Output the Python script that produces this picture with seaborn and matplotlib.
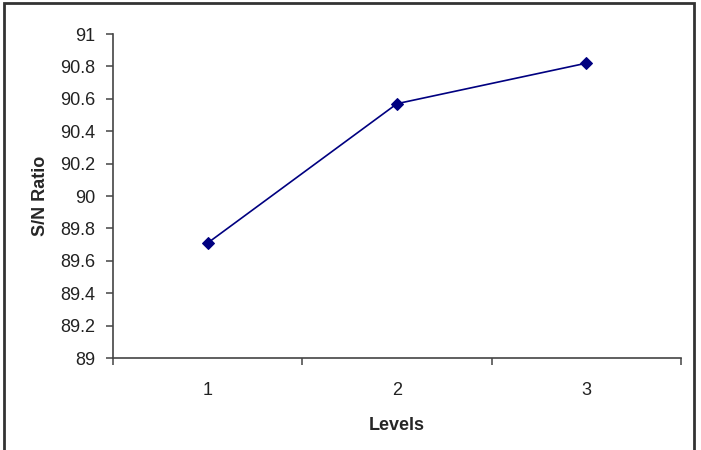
import pandas as pd
import matplotlib
matplotlib.use("Agg")
import matplotlib.pyplot as plt
import matplotlib.patches as patches
from matplotlib.ticker import FixedLocator
import seaborn as sns

levels = [1, 2, 3]
sn_ratio = [89.71, 90.57, 90.82]
y_ticks = [89, 89.2, 89.4, 89.6, 89.8, 90, 90.2, 90.4, 90.6, 90.8, 91]
y_tick_labels = ["89", "89.2", "89.4", "89.6", "89.8", "90", "90.2", "90.4", "90.6", "90.8", "91"]

df = pd.DataFrame({"Levels": levels, "S/N Ratio": sn_ratio})

sns.set_style("white")
plt.rcParams['font.family'] = ['Liberation Sans', 'DejaVu Sans']

fig = plt.figure(figsize=(7.01, 4.5), dpi=100)
ax = fig.add_axes([0.1612, 0.2044, 0.8103, 0.72])

sns.lineplot(data=df, x="Levels", y="S/N Ratio", ax=ax, color="#000080",
             marker="D", markersize=6, markeredgecolor="#000080", linewidth=1.2)

ax.set_xlim(0.5, 3.5)
ax.set_ylim(89, 91)
ax.set_yticks(y_ticks)
ax.set_yticklabels(y_tick_labels)
ax.set_xticks(levels)
ax.set_xticklabels([str(v) for v in levels])
ax.xaxis.set_minor_locator(FixedLocator([0.5, 1.5, 2.5, 3.5]))

for s in ["top", "right"]:
    ax.spines[s].set_visible(False)
for s in ["left", "bottom"]:
    ax.spines[s].set_color("#444444")
    ax.spines[s].set_linewidth(1.2)

ax.tick_params(axis="y", which="major", direction="out", length=5, width=1.1,
               color="#444444", labelsize=13, labelcolor="#222222", pad=8, left=True)
ax.tick_params(axis="x", which="major", length=0, labelsize=13,
               labelcolor="#222222", pad=17)
ax.tick_params(axis="x", which="minor", direction="out", length=5, width=1.1,
               color="#444444", bottom=True)

ax.set_xlabel("Levels", fontsize=13, fontweight="bold", labelpad=13)
ax.set_ylabel("S/N Ratio", fontsize=13, fontweight="bold", labelpad=8)
ax.grid(False)

border = patches.Rectangle((4 / 701, -0.02), 690 / 701, 1.02 - 3 / 450,
                           transform=fig.transFigure, fill=False,
                           edgecolor="#333333", linewidth=2, clip_on=False)
fig.patches.append(border)

fig.savefig("out.png", dpi=100)
